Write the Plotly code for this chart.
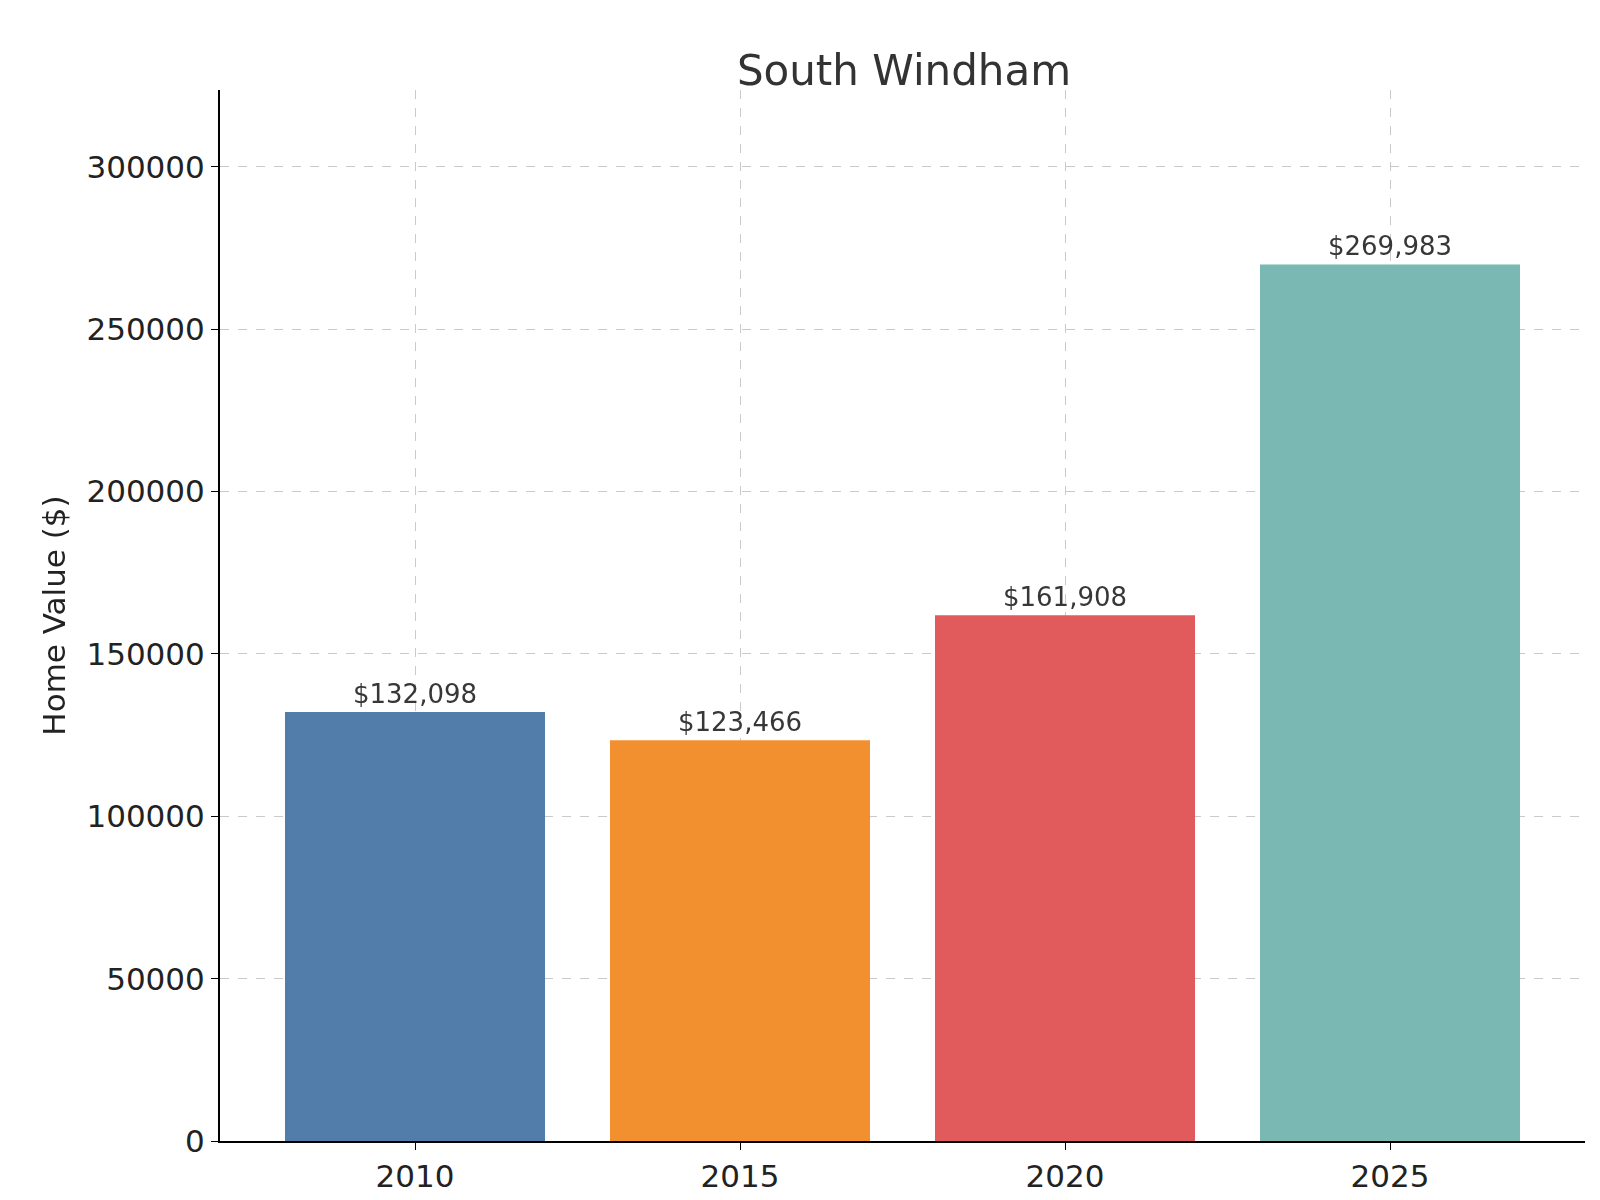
import plotly.graph_objects as go

years = ["2010", "2015", "2020", "2025"]
values = [132098, 123466, 161908, 269983]
colors = ["#4e79a7", "#f28e2b", "#e15759", "#76b7b2"]
labels = [f"${v:,}" for v in values]

fig = go.Figure(go.Bar(
    x=years, y=values, marker_color=colors, marker_line_width=0, opacity=0.98,
    width=0.8, text=labels, textposition="outside", cliponaxis=False,
    textfont=dict(size=26, color="#333333"),
))

axis_common = dict(
    showline=True, linecolor="black", linewidth=2, ticks="outside", ticklen=7,
    tickcolor="black", showgrid=True, gridcolor="rgba(180,180,180,0.7)",
    griddash="dash", gridwidth=1, tickfont=dict(size=31, color="#222222"),
    zeroline=False,
)
fig.update_xaxes(range=[-0.6, 3.6], **axis_common)
fig.update_yaxes(range=[0, 323700], tickvals=[0, 50000, 100000, 150000, 200000, 250000, 300000],
                 tickformat="d", title=dict(text="Home Value ($)", font=dict(size=31, color="#222222"), standoff=12),
                 **axis_common)
fig.update_layout(
    width=1600, height=1200, plot_bgcolor="white", paper_bgcolor="white",
    font=dict(family="DejaVu Sans"),
    title=dict(text="South Windham", x=0.56, xanchor="center", y=0.96,
               font=dict(size=42, color="#333333")),
    margin=dict(l=212, r=23, t=82, b=67), showlegend=False,
)
fig.write_html("out.html")
